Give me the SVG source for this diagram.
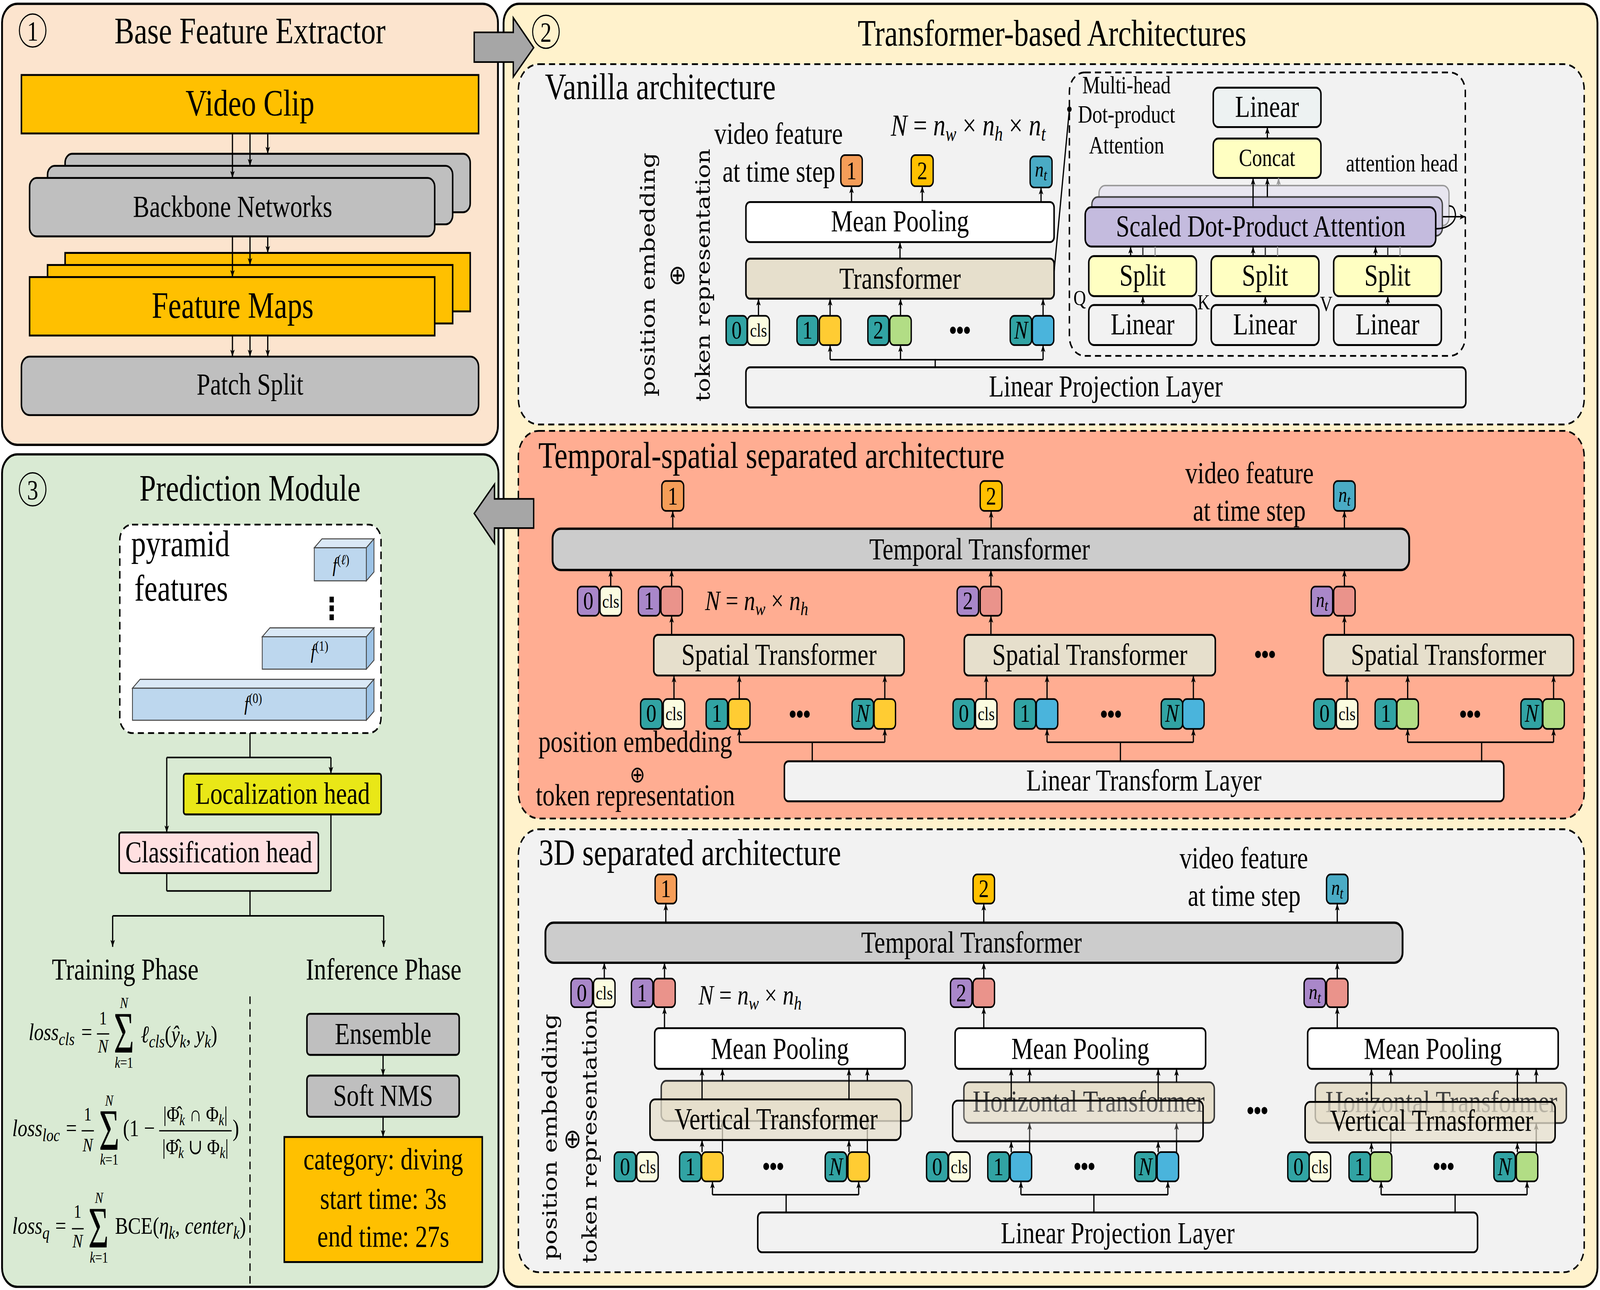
<svg xmlns="http://www.w3.org/2000/svg" width="5106" height="3303" viewBox="0 0 5106 3303" preserveAspectRatio="none">
<defs>
<marker id="ah" viewBox="0 0 10 8" refX="10" refY="4" markerWidth="5.5" markerHeight="4.4" orient="auto" markerUnits="userSpaceOnUse"><path d="M0,0 L10,4 L0,8 L2.5,4 Z" fill="#000"/></marker>
<marker id="ahl" viewBox="0 0 10 8" refX="10" refY="4" markerWidth="5.5" markerHeight="4.4" orient="auto" markerUnits="userSpaceOnUse"><path d="M0,0 L10,4 L0,8 L2.5,4 Z" fill="#999"/></marker>
</defs>
<style>
svg{width:100vw;height:100vh;display:block}
text{font-family:"Liberation Serif","DejaVu Serif","Times New Roman",serif;fill:#000}
.c{text-anchor:middle}
.t29{font-size:29px}
.t24{font-size:24px}
.t20{font-size:19.5px}
.tn{font-size:20px;text-anchor:middle}
.ct{font-size:15px;text-anchor:middle}
.i{font-style:italic}
.dots{font-size:24px;text-anchor:middle;letter-spacing:-1.5px}
.rot{font-family:"DejaVu Serif",serif;font-size:19px;text-anchor:middle}
.oplus{font-family:"DejaVu Sans",sans-serif;font-size:21px;text-anchor:middle}
.sig{font-size:46px}
.pan{stroke:#000;stroke-width:1.8}
.bx{stroke:#000;stroke-width:1.5}
.tk{stroke:#000;stroke-width:1.3}
.dsh{stroke:#000;stroke-width:1.4;stroke-dasharray:6 4}
.ln{fill:none;stroke:#000;stroke-width:1.2}
.ar{fill:none;stroke:#000;stroke-width:1.2;marker-end:url(#ah)}
.arl{fill:none;stroke:#999;stroke-width:1.2;marker-end:url(#ahl)}
.big{fill:#A6A6A6;stroke:#000;stroke-width:1.3}
.teal{fill:#31A3A3}.clsf{fill:#FBFCE0}.yel{fill:#FFCC33}.grn{fill:#B2DD85}.blu{fill:#4AB4DC}
.org{fill:#F59D58}.gold{fill:#FFC000}.ntb{fill:#4AABC5}.pur{fill:#A987C9}.pnk{fill:#EA938B}
.beige{fill:#E6DFCC}.lgray{fill:#F2F2F2}.tgray{fill:#CCCCCC}
</style>
<rect width="5106" height="3303" fill="#FFFFFF"/>
<g transform="scale(3.2564 3.2542)">

<!-- ===== Panel 1 ===== -->
<g id="base-feature-extractor">
<rect class="pan" x="2" y="3" width="486" height="347" rx="15" fill="#FCE4CE"/>
<circle cx="32" cy="24" r="13" fill="none" stroke="#000" stroke-width="1"/>
<text class="c" x="32" y="32" font-size="22">1</text>
<text class="c t29" x="245" y="34">Base Feature Extractor</text>
</g>
<g id="video-clip"><rect class="bx" x="21" y="59" width="448" height="46" fill="#FFC000"/><text class="c t29" x="245" y="91">Video Clip</text></g>
<g id="backbone-networks">
<rect class="bx" x="63.8" y="121" width="397" height="46" rx="7" fill="#BFBFBF"/>
<rect class="bx" x="46.6" y="130.5" width="397" height="46" rx="7" fill="#BFBFBF"/>
<rect class="bx" x="29" y="140" width="397" height="46" rx="7" fill="#BFBFBF"/>
<text class="c t24" x="228" y="170.5">Backbone Networks</text>
</g>
<g id="feature-maps">
<rect class="bx" x="63.8" y="199" width="397" height="46" fill="#FFC000"/>
<rect class="bx" x="46.6" y="208.5" width="397" height="46" fill="#FFC000"/>
<rect class="bx" x="29" y="218" width="397" height="46" fill="#FFC000"/>
<text class="c t29" x="228" y="250">Feature Maps</text>
</g>
<g id="patch-split"><rect class="bx" x="21" y="280.6" width="448" height="46" rx="8" fill="#BFBFBF"/><text class="c t24" x="245" y="310.5">Patch Split</text></g>

<!-- ===== Panel 2 ===== -->
<g id="transformer-architectures">
<rect class="pan" x="493.5" y="3" width="1072" height="1009.5" rx="15" fill="#FFF2CC"/>
<circle cx="535" cy="25" r="13" fill="none" stroke="#000" stroke-width="1"/>
<text class="c" x="535" y="33" font-size="22">2</text>
<text class="c t29" x="1031" y="36">Transformer-based Architectures</text>
</g>

<!-- Vanilla -->
<g id="vanilla-architecture">
<rect class="dsh" x="508" y="50.5" width="1044.5" height="283.5" rx="20" fill="#F2F2F2"/>
<text class="t29" x="534" y="78">Vanilla architecture</text>
<text class="rot" transform="translate(641.5,216) rotate(-90)" textLength="192" lengthAdjust="spacingAndGlyphs">position embedding</text>
<text class="oplus" x="664" y="223.5">⊕</text>
<text class="rot" transform="translate(695.5,216.5) rotate(-90)" textLength="199" lengthAdjust="spacingAndGlyphs">token representation</text>
<text class="t24" x="700" y="113">video feature</text>
<text class="t24" x="708" y="143">at time step</text>
<text x="873" y="106.5" font-size="24"><tspan class="i">N</tspan> = <tspan class="i">n</tspan><tspan class="i" font-size="16" dy="4">w</tspan><tspan dy="-4"> × </tspan><tspan class="i">n</tspan><tspan class="i" font-size="16" dy="4">h</tspan><tspan dy="-4"> × </tspan><tspan class="i">n</tspan><tspan class="i" font-size="16" dy="4">t</tspan></text>
</g>
<g id="v-out-tokens">
<rect class="tk org" x="824" y="122" width="21" height="24.5" rx="4"/><text class="tn" x="834.5" y="141">1</text>
<rect class="tk gold" x="893" y="122" width="21.5" height="24.5" rx="4"/><text class="tn" x="903.8" y="141">2</text>
<rect class="tk ntb" x="1009.5" y="123" width="21.5" height="24.5" rx="4"/><text class="tn" x="1020.2" y="139"><tspan class="i" font-size="17">n</tspan><tspan class="i" font-size="12" dy="3">t</tspan></text>
</g>
<g id="v-mean-pooling"><rect class="bx" x="731" y="159" width="302" height="31.5" rx="4" fill="#FFFFFF"/><text class="c t24" x="882" y="182">Mean Pooling</text></g>
<g id="v-transformer"><rect class="bx beige" x="731" y="203.5" width="302" height="31.5" rx="4"/><text class="c t24" x="882" y="227">Transformer</text></g>
<g id="v-in-tokens">
<rect class="tk teal" x="711.6" y="248.5" width="20.5" height="23" rx="4"/><text class="tn" x="721.9" y="266.5">0</text>
<rect class="tk clsf" x="732.6" y="248.5" width="21.4" height="23" rx="4"/><text class="ct" x="743.3" y="265">cls</text>
<rect class="tk teal" x="781" y="248.5" width="20.5" height="23" rx="4"/><text class="tn" x="791.3" y="266.5">1</text>
<rect class="tk yel" x="803" y="248.5" width="21" height="23" rx="4"/>
<rect class="tk teal" x="850.5" y="248.5" width="20.5" height="23" rx="4"/><text class="tn" x="860.8" y="266.5">2</text>
<rect class="tk grn" x="872" y="248.5" width="21" height="23" rx="4"/>
<text class="dots" x="940" y="268">•••</text>
<rect class="tk teal" x="990" y="248.5" width="21" height="23" rx="4"/><text class="tn i" x="1000.5" y="266.5">N</text>
<rect class="tk blu" x="1011.7" y="248.5" width="21" height="23" rx="4"/>
</g>
<g id="v-linear-projection"><rect class="bx lgray" x="731" y="289" width="705.5" height="31.6" rx="4"/><text class="c t24" x="1083.7" y="312">Linear Projection Layer</text></g>

<!-- Multi-head attention -->
<g id="multi-head-attention">
<rect class="dsh" x="1048" y="57" width="388" height="223" rx="15" fill="none"/>
<text class="c t20" x="1104" y="73.5">Multi-head</text>
<text class="c t20" x="1104" y="96.6">Dot-product</text>
<text class="c t20" x="1104" y="120.7">Attention</text>
<text class="t20" x="1319" y="135">attention head</text>
</g>
<g id="mh-linear"><rect class="bx" x="1189" y="69" width="105.5" height="31" rx="5" fill="#EDF2F2"/><text class="c t24" x="1241.7" y="92">Linear</text></g>
<g id="mh-concat"><rect class="bx" x="1189" y="109" width="105.5" height="31" rx="5" fill="#FFFFC2"/><text class="c t20" x="1241.7" y="130.5">Concat</text></g>
<g id="mh-sdpa">
<rect x="1077" y="146" width="343" height="31.5" rx="6" fill="#E8E6F0" stroke="#999" stroke-width="1.2"/>
<rect x="1070" y="155" width="343.5" height="30.5" rx="6" fill="#CCC6E2" stroke="#444" stroke-width="1.3"/>
<rect class="bx" x="1063.5" y="163" width="343.5" height="31" rx="6" fill="#C4BBDE"/>
<text class="c t24" x="1235.5" y="186">Scaled Dot-Product Attention</text>
</g>
<g id="mh-splits">
<rect class="bx" x="1067" y="201.5" width="105.5" height="31.5" rx="5" fill="#FFFFC2"/><text class="c t24" x="1119.7" y="224.5">Split</text>
<rect class="bx" x="1187" y="201.5" width="105.5" height="31.5" rx="5" fill="#FFFFC2"/><text class="c t24" x="1239.7" y="224.5">Split</text>
<rect class="bx" x="1307" y="201.5" width="105.5" height="31.5" rx="5" fill="#FFFFC2"/><text class="c t24" x="1359.7" y="224.5">Split</text>
</g>
<g id="mh-linears">
<rect class="bx lgray" x="1067" y="240" width="105.5" height="31.5" rx="5"/><text class="c t24" x="1119.7" y="263">Linear</text>
<rect class="bx lgray" x="1187" y="240" width="105.5" height="31.5" rx="5"/><text class="c t24" x="1239.7" y="263">Linear</text>
<rect class="bx lgray" x="1307" y="240" width="105.5" height="31.5" rx="5"/><text class="c t24" x="1359.7" y="263">Linear</text>
</g>
<g id="qkv">
<text x="1052" y="240" font-size="17">Q</text>
<text x="1173.5" y="243.5" font-size="17">K</text>
<text x="1293.5" y="244.5" font-size="17">V</text>
</g>

<!-- Temporal-spatial -->
<g id="temporal-spatial-architecture">
<rect class="dsh" x="508" y="339" width="1044.5" height="305" rx="20" fill="#FFAD92"/>
<text class="t29" x="527.6" y="368">Temporal-spatial separated architecture</text>
<text class="t24" x="1161.5" y="380">video feature</text>
<text class="t24" x="1169" y="409.5">at time step</text>
<text x="691" y="480" font-size="22"><tspan class="i">N</tspan> = <tspan class="i">n</tspan><tspan class="i" font-size="15" dy="4">w</tspan><tspan dy="-4"> × </tspan><tspan class="i">n</tspan><tspan class="i" font-size="15" dy="4">h</tspan></text>
<text class="t24" x="527.6" y="591.5">position embedding</text>
<text class="oplus" x="624.7" y="615.5" style="font-size:18px">⊕</text>
<text class="t24" x="525" y="633.5">token representation</text>
<text class="dots" x="1239" y="523">•••</text>
</g>
<g id="ts-out-tokens">
<rect class="tk org" x="648.6" y="378.5" width="21.4" height="23.5" rx="4"/><text class="tn" x="659.3" y="397">1</text>
<rect class="tk gold" x="960.6" y="378.5" width="21.4" height="23.5" rx="4"/><text class="tn" x="971.3" y="397">2</text>
<rect class="tk ntb" x="1307" y="378.5" width="21" height="23.5" rx="4"/><text class="tn" x="1317.5" y="395"><tspan class="i" font-size="17">n</tspan><tspan class="i" font-size="12" dy="3">t</tspan></text>
</g>
<g id="ts-temporal-transformer"><rect class="tgray" x="541.5" y="416" width="839.5" height="32.5" rx="8" stroke="#000" stroke-width="1.8"/><text class="c t24" x="960" y="440">Temporal Transformer</text></g>
<g id="ts-mid-tokens">
<rect class="tk pur" x="566" y="461.5" width="21" height="23" rx="4"/><text class="tn" x="576.5" y="479.5">0</text>
<rect class="tk clsf" x="588" y="461.5" width="21" height="23" rx="4"/><text class="ct" x="598.5" y="478">cls</text>
<rect class="tk pur" x="625.6" y="461.5" width="21" height="23" rx="4"/><text class="tn" x="636.1" y="479.5">1</text>
<rect class="tk pnk" x="647.7" y="461.5" width="21" height="23" rx="4"/>
<rect class="tk pur" x="938" y="461.5" width="21" height="23" rx="4"/><text class="tn" x="948.5" y="479.5">2</text>
<rect class="tk pnk" x="960.6" y="461.5" width="21" height="23" rx="4"/>
<rect class="tk pur" x="1285" y="461.5" width="21" height="23" rx="4"/><text class="tn" x="1295.5" y="477.5"><tspan class="i" font-size="17">n</tspan><tspan class="i" font-size="12" dy="3">t</tspan></text>
<rect class="tk pnk" x="1307" y="461.5" width="21" height="23" rx="4"/>
</g>
<g id="ts-spatial-1"><rect class="bx beige" x="640.7" y="499.5" width="245.3" height="32" rx="4"/><text class="c t24" x="763.4" y="523">Spatial Transformer</text></g>
<g id="ts-spatial-2"><rect class="bx beige" x="945" y="499.5" width="246" height="32" rx="4"/><text class="c t24" x="1068" y="523">Spatial Transformer</text></g>
<g id="ts-spatial-3"><rect class="bx beige" x="1297" y="499.5" width="245" height="32" rx="4"/><text class="c t24" x="1419.5" y="523">Spatial Transformer</text></g>
<g id="ts-in-tokens">
<rect class="tk teal" x="627.8" y="550" width="21" height="23.5" rx="4"/><text class="tn" x="638.3" y="568">0</text>
<rect class="tk clsf" x="650" y="550" width="21" height="23.5" rx="4"/><text class="ct" x="660.5" y="566.5">cls</text>
<rect class="tk teal" x="692" y="550" width="21" height="23.5" rx="4"/><text class="tn" x="702.5" y="568">1</text>
<rect class="tk yel" x="714" y="550" width="21" height="23.5" rx="4"/>
<text class="dots" x="783" y="570">•••</text>
<rect class="tk teal" x="835" y="550" width="21" height="23.5" rx="4"/><text class="tn i" x="845.5" y="568">N</text>
<rect class="tk yel" x="856.6" y="550" width="21" height="23.5" rx="4"/>
<rect class="tk teal" x="934" y="550" width="21" height="23.5" rx="4"/><text class="tn" x="944.5" y="568">0</text>
<rect class="tk clsf" x="956" y="550" width="21" height="23.5" rx="4"/><text class="ct" x="966.5" y="566.5">cls</text>
<rect class="tk teal" x="994" y="550" width="21" height="23.5" rx="4"/><text class="tn" x="1004.5" y="568">1</text>
<rect class="tk blu" x="1015.6" y="550" width="21" height="23.5" rx="4"/>
<text class="dots" x="1088" y="570">•••</text>
<rect class="tk teal" x="1138" y="550" width="21" height="23.5" rx="4"/><text class="tn i" x="1148.5" y="568">N</text>
<rect class="tk blu" x="1159" y="550" width="21" height="23.5" rx="4"/>
<rect class="tk teal" x="1287.5" y="550" width="21" height="23.5" rx="4"/><text class="tn" x="1298" y="568">0</text>
<rect class="tk clsf" x="1309.6" y="550" width="21" height="23.5" rx="4"/><text class="ct" x="1320.1" y="566.5">cls</text>
<rect class="tk teal" x="1347.6" y="550" width="21" height="23.5" rx="4"/><text class="tn" x="1358.1" y="568">1</text>
<rect class="tk grn" x="1369" y="550" width="21" height="23.5" rx="4"/>
<text class="dots" x="1440" y="570">•••</text>
<rect class="tk teal" x="1490.5" y="550" width="21" height="23.5" rx="4"/><text class="tn i" x="1501" y="568">N</text>
<rect class="tk grn" x="1512" y="550" width="21" height="23.5" rx="4"/>
</g>
<g id="ts-linear-transform"><rect class="bx lgray" x="768.7" y="599" width="705" height="31.5" rx="4"/><text class="c t24" x="1121" y="622">Linear Transform Layer</text></g>

<!-- 3D separated -->
<g id="3d-separated-architecture">
<rect class="dsh" x="508" y="652.5" width="1044.5" height="348.5" rx="20" fill="#F2F2F2"/>
<text class="t29" x="528" y="680.7">3D separated architecture</text>
<text class="t24" x="1156" y="683">video feature</text>
<text class="t24" x="1164" y="712.5">at time step</text>
<text x="684.6" y="790.5" font-size="22"><tspan class="i">N</tspan> = <tspan class="i">n</tspan><tspan class="i" font-size="15" dy="4">w</tspan><tspan dy="-4"> × </tspan><tspan class="i">n</tspan><tspan class="i" font-size="15" dy="4">h</tspan></text>
<text class="rot" transform="translate(545.5,894.6) rotate(-90)" textLength="194" lengthAdjust="spacingAndGlyphs">position embedding</text>
<text class="oplus" x="561" y="903">⊕</text>
<text class="rot" transform="translate(584.5,894) rotate(-90)" textLength="200" lengthAdjust="spacingAndGlyphs">token representation</text>
<text class="dots" x="1231.5" y="882">•••</text>
</g>
<g id="3d-out-tokens">
<rect class="tk org" x="642" y="688" width="21" height="23" rx="4"/><text class="tn" x="652.5" y="706">1</text>
<rect class="tk gold" x="953.6" y="688" width="21" height="23" rx="4"/><text class="tn" x="964.1" y="706">2</text>
<rect class="tk ntb" x="1300" y="688" width="21" height="23" rx="4"/><text class="tn" x="1310.5" y="704"><tspan class="i" font-size="17">n</tspan><tspan class="i" font-size="12" dy="3">t</tspan></text>
</g>
<g id="3d-temporal-transformer"><rect class="tgray" x="534.5" y="726" width="840" height="31.5" rx="8" stroke="#000" stroke-width="1.8"/><text class="c t24" x="952" y="749.5">Temporal Transformer</text></g>
<g id="3d-mid-tokens">
<rect class="tk pur" x="559.6" y="770" width="21" height="22.5" rx="4"/><text class="tn" x="570.1" y="788">0</text>
<rect class="tk clsf" x="581.7" y="770" width="21" height="22.5" rx="4"/><text class="ct" x="592.2" y="786.5">cls</text>
<rect class="tk pur" x="618.8" y="770" width="21" height="22.5" rx="4"/><text class="tn" x="629.3" y="788">1</text>
<rect class="tk pnk" x="640.7" y="770" width="21" height="22.5" rx="4"/>
<rect class="tk pur" x="931.5" y="770" width="21" height="22.5" rx="4"/><text class="tn" x="942" y="788">2</text>
<rect class="tk pnk" x="953.6" y="770" width="21" height="22.5" rx="4"/>
<rect class="tk pur" x="1278" y="770" width="21" height="22.5" rx="4"/><text class="tn" x="1288.5" y="786"><tspan class="i" font-size="17">n</tspan><tspan class="i" font-size="12" dy="3">t</tspan></text>
<rect class="tk pnk" x="1300" y="770" width="21" height="22.5" rx="4"/>
</g>
<g id="3d-mean-pooling-1"><rect class="bx" x="641.6" y="809" width="245.4" height="32" rx="4" fill="#FFFFFF"/><text class="c t24" x="764.3" y="833">Mean Pooling</text></g>
<g id="3d-mean-pooling-2"><rect class="bx" x="936" y="809" width="245.5" height="32" rx="4" fill="#FFFFFF"/><text class="c t24" x="1058.7" y="833">Mean Pooling</text></g>
<g id="3d-mean-pooling-3"><rect class="bx" x="1281.5" y="809" width="245.5" height="32" rx="4" fill="#FFFFFF"/><text class="c t24" x="1404.2" y="833">Mean Pooling</text></g>

<!-- back transformer boxes -->
<g id="3d-back-1"><rect x="648" y="850.4" width="245.7" height="31.6" rx="5" fill="#E6DFCC" stroke="#333" stroke-width="1.4"/></g>
<g id="3d-horizontal-2"><rect x="944.6" y="851.5" width="245.4" height="32" rx="5" fill="#E6DFCC" stroke="#333" stroke-width="1.4"/><text class="c t24" x="1066.8" y="874.6" style="fill:#333333">Horizontal Transformer</text></g>
<g id="3d-horizontal-3"><rect x="1289" y="852" width="246" height="31.6" rx="5" fill="#E6DFCC" stroke="#333" stroke-width="1.4"/><text class="c t24" x="1412.5" y="875" style="fill:#3E3E3E">Horizontal Transformer</text></g>

<!-- connectors that go behind the semi-transparent front boxes -->
<g id="connectors-hidden">
<path class="ar" d="M708,906.5 V882"/><path class="ar" d="M850,906.5 V882"/>
<path class="ar" d="M1009,906.5 V883.5"/><path class="ar" d="M1153,906.5 V883.5"/>
<path class="ar" d="M1363,906.5 V883.6"/><path class="ar" d="M1505.5,906.5 V883.6"/>
</g>

<!-- front transformer boxes -->
<g id="3d-vertical-1"><rect x="637" y="865" width="245.7" height="32" rx="5" fill="#E6DFCC" fill-opacity="0.75" stroke="#000" stroke-width="1.5"/><text class="c t24" x="760.5" y="888.5">Vertical Transformer</text></g>
<g id="3d-vertical-2"><rect x="933.6" y="866" width="245.4" height="32" rx="5" fill="#EEEDE8" fill-opacity="0.25" stroke="#000" stroke-width="1.5"/></g>
<g id="3d-vertical-3"><rect x="1279" y="867" width="245" height="32" rx="5" fill="#E6DFCC" fill-opacity="0.72" stroke="#000" stroke-width="1.5"/><text class="c t24" x="1403" y="889.5">Vertical Trnasformer</text></g>

<g id="3d-in-tokens">
<rect class="tk teal" x="602" y="906.5" width="21" height="23" rx="4"/><text class="tn" x="612.5" y="924.5">0</text>
<rect class="tk clsf" x="624" y="906.5" width="21" height="23" rx="4"/><text class="ct" x="634.5" y="923">cls</text>
<rect class="tk teal" x="666" y="906.5" width="21" height="23" rx="4"/><text class="tn" x="676.5" y="924.5">1</text>
<rect class="tk yel" x="687.7" y="906.5" width="21" height="23" rx="4"/>
<text class="dots" x="757" y="926">•••</text>
<rect class="tk teal" x="808.7" y="906.5" width="21" height="23" rx="4"/><text class="tn i" x="819.2" y="924.5">N</text>
<rect class="tk yel" x="831" y="906.5" width="21" height="23" rx="4"/>
<rect class="tk teal" x="908" y="906.5" width="21" height="23" rx="4"/><text class="tn" x="918.5" y="924.5">0</text>
<rect class="tk clsf" x="929.6" y="906.5" width="21" height="23" rx="4"/><text class="ct" x="940.1" y="923">cls</text>
<rect class="tk teal" x="968" y="906.5" width="21" height="23" rx="4"/><text class="tn" x="978.5" y="924.5">1</text>
<rect class="tk blu" x="990" y="906.5" width="21" height="23" rx="4"/>
<text class="dots" x="1062" y="926">•••</text>
<rect class="tk teal" x="1112" y="906.5" width="21" height="23" rx="4"/><text class="tn i" x="1122.5" y="924.5">N</text>
<rect class="tk blu" x="1134" y="906.5" width="21" height="23" rx="4"/>
<rect class="tk teal" x="1262" y="906.5" width="21" height="23" rx="4"/><text class="tn" x="1272.5" y="924.5">0</text>
<rect class="tk clsf" x="1283" y="906.5" width="21" height="23" rx="4"/><text class="ct" x="1293.5" y="923">cls</text>
<rect class="tk teal" x="1322" y="906.5" width="21" height="23" rx="4"/><text class="tn" x="1332.5" y="924.5">1</text>
<rect class="tk grn" x="1343" y="906.5" width="21" height="23" rx="4"/>
<text class="dots" x="1414" y="926">•••</text>
<rect class="tk teal" x="1464" y="906.5" width="21" height="23" rx="4"/><text class="tn i" x="1474.5" y="924.5">N</text>
<rect class="tk grn" x="1486" y="906.5" width="21" height="23" rx="4"/>
</g>
<g id="3d-linear-projection"><rect class="bx lgray" x="742.6" y="954" width="705.4" height="31.3" rx="4"/><text class="c t24" x="1095.3" y="978">Linear Projection Layer</text></g>

<!-- ===== Panel 3 ===== -->
<g id="prediction-module">
<rect class="pan" x="2" y="357.5" width="486.5" height="655" rx="15" fill="#D9EAD3"/>
<circle cx="32" cy="385" r="13" fill="none" stroke="#000" stroke-width="1"/>
<text class="c" x="32" y="393" font-size="22">3</text>
<text class="c t29" x="245" y="394">Prediction Module</text>
<text class="c t24" x="122.7" y="770.7">Training Phase</text>
<text class="c t24" x="376" y="770.7">Inference Phase</text>
<line x1="245" y1="784" x2="245" y2="1012" stroke="#000" stroke-width="1.2" stroke-dasharray="6 4"/>
</g>
<g id="pyramid-features">
<rect class="dsh" x="117.4" y="412.8" width="256" height="164" rx="12" fill="#FFFFFF"/>
<text class="t29" x="128.5" y="437.6">pyramid</text>
<text class="t29" x="131.7" y="472.6">features</text>
<g stroke="#444" stroke-width="0.8">
<polygon points="308,431 315.5,424 366.5,424 359,431" fill="#DAE8F6"/>
<polygon points="359,431 366.5,424 366.5,450 359,457" fill="#9DC3E6"/>
<rect x="308" y="431" width="51" height="26" fill="#BDD7EE"/>
<polygon points="257,501 264.5,494 366.5,494 359,501" fill="#DAE8F6"/>
<polygon points="359,501 366.5,494 366.5,519.5 359,526.5" fill="#9DC3E6"/>
<rect x="257" y="501" width="102" height="25.5" fill="#BDD7EE"/>
<polygon points="129.8,541.5 137.3,534.5 366.5,534.5 359,541.5" fill="#DAE8F6"/>
<polygon points="359,541.5 366.5,534.5 366.5,559.7 359,566.7" fill="#9DC3E6"/>
<rect x="129.8" y="541.5" width="229.2" height="25.2" fill="#BDD7EE"/>
</g>
<text x="326" y="450" font-size="16" class="i">f<tspan font-size="11" dy="-6" font-style="normal">(</tspan><tspan font-size="11">ℓ</tspan><tspan font-size="11" font-style="normal">)</tspan></text>
<text x="304.5" y="518" font-size="16" class="i">f<tspan font-size="11" dy="-6" font-style="normal">(1)</tspan></text>
<text x="239.5" y="559" font-size="16" class="i">f<tspan font-size="11" dy="-6" font-style="normal">(0)</tspan></text>
<text x="325" y="487" class="c" font-size="24" font-weight="bold" style="font-family:'DejaVu Sans',sans-serif">⋮</text>
</g>
<g id="localization-head"><rect class="bx" x="180" y="608.8" width="193.5" height="32" rx="2" fill="#E9E717"/><text class="c t24" x="277" y="632.5">Localization head</text></g>
<g id="classification-head"><rect class="bx" x="116.8" y="655" width="195.2" height="32" rx="2" fill="#FFE0E1"/><text class="c t24" x="214.4" y="678.5">Classification head</text></g>
<g id="ensemble"><rect class="bx" x="300.8" y="797.7" width="149.2" height="32.3" rx="3" fill="#BFBFBF"/><text class="c t24" x="375.4" y="821.5">Ensemble</text></g>
<g id="soft-nms"><rect class="bx" x="300.8" y="846.3" width="149.2" height="32.4" rx="3" fill="#BFBFBF"/><text class="c t24" x="375.4" y="870">Soft NMS</text></g>
<g id="result">
<rect class="bx" x="278.6" y="894.6" width="194" height="98.4" fill="#FFC000"/>
<text class="c t24" x="375.6" y="920">category: diving</text>
<text class="c t24" x="375.6" y="951">start time: 3s</text>
<text class="c t24" x="375.6" y="981">end time: 27s</text>
</g>
<g id="loss-cls">
<text x="28" y="818.4" font-size="19" class="i">loss<tspan font-size="14" dy="4">cls</tspan></text>
<text x="85" y="818.4" class="c" font-size="19">=</text>
<text x="101" y="806" class="c" font-size="15">1</text>
<line x1="95" y1="813.5" x2="107" y2="813.5" stroke="#000" stroke-width="1"/>
<text x="101" y="828.3" class="c i" font-size="15">N</text>
<text class="sig" x="111.5" y="828.2" textLength="20" lengthAdjust="spacingAndGlyphs">Σ</text>
<text x="121.5" y="793" class="c i" font-size="12">N</text>
<text x="121.5" y="840" class="c" font-size="12"><tspan class="i">k</tspan>=1</text>
<text x="138" y="820.3" font-size="19"><tspan class="i">ℓ</tspan><tspan class="i" font-size="14" dy="4">cls</tspan><tspan dy="-4">(</tspan><tspan class="i">ŷ</tspan><tspan class="i" font-size="14" dy="4">k</tspan><tspan dy="-4">, </tspan><tspan class="i">y</tspan><tspan class="i" font-size="14" dy="4">k</tspan><tspan dy="-4">)</tspan></text>
</g>
<g id="loss-loc">
<text x="12" y="894" font-size="19" class="i">loss<tspan font-size="14" dy="4">loc</tspan></text>
<text x="70" y="894" class="c" font-size="19">=</text>
<text x="86" y="881.5" class="c" font-size="15">1</text>
<line x1="80" y1="889.7" x2="92" y2="889.7" stroke="#000" stroke-width="1"/>
<text x="86" y="906" class="c i" font-size="15">N</text>
<text class="sig" x="97" y="904.8" textLength="20" lengthAdjust="spacingAndGlyphs">Σ</text>
<text x="107" y="870" class="c i" font-size="12">N</text>
<text x="107" y="916.5" class="c" font-size="12"><tspan class="i">k</tspan>=1</text>
<text x="120.5" y="894" font-size="19">(1 −</text>
<text x="191.5" y="882.4" class="c" font-size="17">|Φ̂<tspan class="i" font-size="12" dy="3">k</tspan><tspan dy="-3"> ∩ Φ</tspan><tspan class="i" font-size="12" dy="3">k</tspan><tspan dy="-3">|</tspan></text>
<line x1="156" y1="889.7" x2="227" y2="889.7" stroke="#000" stroke-width="1"/>
<text x="191.5" y="908" class="c" font-size="17">|Φ̂<tspan class="i" font-size="12" dy="3">k</tspan><tspan dy="-3"> ∪ Φ</tspan><tspan class="i" font-size="12" dy="3">k</tspan><tspan dy="-3">|</tspan></text>
<text x="228" y="894" font-size="19">)</text>
</g>
<g id="loss-q">
<text x="12" y="970.7" font-size="19" class="i">loss<tspan font-size="14" dy="4">q</tspan></text>
<text x="59.5" y="970.7" class="c" font-size="19">=</text>
<text x="76" y="958" class="c" font-size="15">1</text>
<line x1="70.5" y1="966.8" x2="82" y2="966.8" stroke="#000" stroke-width="1"/>
<text x="76" y="981.5" class="c i" font-size="15">N</text>
<text class="sig" x="86.5" y="981.5" textLength="20" lengthAdjust="spacingAndGlyphs">Σ</text>
<text x="97" y="946.6" class="c i" font-size="12">N</text>
<text x="97" y="993.5" class="c" font-size="12"><tspan class="i">k</tspan>=1</text>
<text x="112.7" y="970.7" font-size="19">BCE(<tspan class="i">η</tspan><tspan class="i" font-size="14" dy="4">k</tspan><tspan dy="-4">, </tspan><tspan class="i">center</tspan><tspan class="i" font-size="14" dy="4">k</tspan><tspan dy="-4">)</tspan></text>
</g>

<!-- big block arrows between modules -->
<g id="flow-arrows">
<polygon class="big" points="464.7,25.5 503,25.5 503,14 523,37.5 503,60.5 503,48.8 464.7,48.8"/>
<polygon class="big" points="523,392.5 484.6,392.5 484.6,381 464.7,404 484.6,427.5 484.6,415.5 523,415.5"/>
</g>

<!-- ===== Connectors ===== -->
<g id="connectors">
<path class="ar" d="M227.8,105 V140"/><path class="ar" d="M245,105 V130.5"/><path class="ar" d="M262.4,105 V121"/>
<path class="ar" d="M227.8,186 V218"/><path class="ar" d="M245,186 V208.5"/><path class="ar" d="M262.4,186 V199"/>
<path class="ar" d="M227.8,264 V280.6"/><path class="ar" d="M245,264 V280.6"/><path class="ar" d="M262.4,264 V280.6"/>
<path class="ar" d="M834.5,159 V146.5"/><path class="ar" d="M903.8,159 V146.5"/><path class="ar" d="M1020.2,159 V147.5"/>
<path class="ar" d="M882,203.5 V190.5"/>
<path class="ar" d="M743.3,248.5 V235"/><path class="ar" d="M813.5,248.5 V235"/><path class="ar" d="M882.5,248.5 V235"/><path class="ar" d="M1022.2,248.5 V235"/>
<path class="ln" d="M916.5,289 V283 M813.5,283 H1022.2"/>
<path class="ar" d="M813.5,283 V271.5"/><path class="ar" d="M882.5,283 V271.5"/><path class="ar" d="M1022.2,283 V271.5"/>
<path class="ln" d="M1033,213.5 L1048,86"/><circle cx="1048" cy="86" r="2.2" fill="#000"/>
<path class="ar" d="M1242,109 V100"/>
<path class="ar" d="M1228,163 V140"/><path class="ar" d="M1242,155 V140"/><path class="arl" d="M1253,146 V140"/>
<path class="ln" d="M1407,180 C1420,180 1428,174 1426,167 C1425,163 1423,162 1420,162"/>
<path class="ar" d="M1414,170.5 H1436"/>
<path class="ar" d="M1120,240 V233"/><path class="ar" d="M1240,240 V233"/><path class="ar" d="M1360,240 V233"/>
<path class="ar" d="M1108,201.5 V194"/><path fill="none" stroke="#333" stroke-width="1.2" d="M1120,201.5 V194"/><path fill="none" stroke="#999" stroke-width="1.2" d="M1132,201.5 V194"/>
<path class="ar" d="M1228,201.5 V194"/><path fill="none" stroke="#333" stroke-width="1.2" d="M1240,201.5 V194"/><path fill="none" stroke="#999" stroke-width="1.2" d="M1252,201.5 V194"/>
<path class="ar" d="M1348,201.5 V194"/><path fill="none" stroke="#333" stroke-width="1.2" d="M1360,201.5 V194"/><path fill="none" stroke="#999" stroke-width="1.2" d="M1372,201.5 V194"/>
<path class="ar" d="M659.3,416 V402"/><path class="ar" d="M971.3,416 V402"/><path class="ar" d="M1317.5,416 V402"/>
<path class="ar" d="M598.5,461.5 V448.5"/><path class="ar" d="M658.2,461.5 V448.5"/><path class="ar" d="M971.1,461.5 V448.5"/><path class="ar" d="M1317.5,461.5 V448.5"/>
<path class="ar" d="M658.2,499.5 V484.5"/><path class="ar" d="M971.1,499.5 V484.5"/><path class="ar" d="M1317.5,499.5 V484.5"/>
<path class="ar" d="M660.5,550 V531.5"/><path class="ar" d="M724.5,550 V531.5"/><path class="ar" d="M867.1,550 V531.5"/>
<path class="ar" d="M966.5,550 V531.5"/><path class="ar" d="M1026.1,550 V531.5"/><path class="ar" d="M1169.5,550 V531.5"/>
<path class="ar" d="M1320.1,550 V531.5"/><path class="ar" d="M1379.5,550 V531.5"/><path class="ar" d="M1522.5,550 V531.5"/>
<path class="ln" d="M796,599 V584 M724.5,584 H867.1 M1098,599 V584 M1026.1,584 H1169.5 M1452,599 V584 M1379.5,584 H1522.5"/>
<path class="ar" d="M724.5,584 V573.5"/><path class="ar" d="M867.1,584 V573.5"/>
<path class="ar" d="M1026.1,584 V573.5"/><path class="ar" d="M1169.5,584 V573.5"/>
<path class="ar" d="M1379.5,584 V573.5"/><path class="ar" d="M1522.5,584 V573.5"/>
<path class="ar" d="M652.5,726 V711"/><path class="ar" d="M964.1,726 V711"/><path class="ar" d="M1310.5,726 V711"/>
<path class="ar" d="M592.2,770 V757.5"/><path class="ar" d="M651.2,770 V757.5"/><path class="ar" d="M964.1,770 V757.5"/><path class="ar" d="M1310.5,770 V757.5"/>
<path class="ar" d="M651.2,809 V792.5"/><path class="ar" d="M964.1,809 V792.5"/><path class="ar" d="M1310.5,809 V792.5"/>
<path class="ar" d="M688,906.5 V897"/><path class="ar" d="M688,865 V841"/><path class="ar" d="M708,850.4 V841"/>
<path class="ar" d="M832,906.5 V897"/><path class="ar" d="M832,865 V841"/><path class="ar" d="M850,850.4 V841"/>
<path class="ar" d="M991,906.5 V898"/><path class="ar" d="M991,866 V841"/><path class="ar" d="M1009,851.5 V841"/>
<path class="ar" d="M1135,906.5 V898"/><path class="ar" d="M1135,866 V841"/><path class="ar" d="M1153,851.5 V841"/>
<path class="ar" d="M1344,906.5 V899"/><path class="ar" d="M1344,867 V841"/><path class="ar" d="M1363,852 V841"/>
<path class="ar" d="M1487,906.5 V899"/><path class="ar" d="M1487,867 V841"/><path class="ar" d="M1505.5,852 V841"/>
<path class="ln" d="M770.4,954 V940 M698.2,940 H841.5 M1072,954 V940 M1000.5,940 H1144.5 M1426,954 V940 M1353.5,940 H1496.5"/>
<path class="ar" d="M698.2,940 V929.5"/><path class="ar" d="M841.5,940 V929.5"/>
<path class="ar" d="M1000.5,940 V929.5"/><path class="ar" d="M1144.5,940 V929.5"/>
<path class="ar" d="M1353.5,940 V929.5"/><path class="ar" d="M1496.5,940 V929.5"/>
<path class="ln" d="M245,576.8 V596 M163.4,596 H324.3"/>
<path class="ar" d="M324.3,596 V608.8"/><path class="ar" d="M163.4,596 V655"/>
<path class="ln" d="M324.3,640.8 V701 M163.4,687 V701 M163.4,701 H324.3 M245,701 V720.6 M110.4,720.6 H376"/>
<path class="ar" d="M110.4,720.6 V745"/><path class="ar" d="M376,720.6 V745"/>
<path class="ar" d="M375.4,830 V846.3"/><path class="ar" d="M375.4,878.7 V894.6"/>
</g>
</g>
</svg>
